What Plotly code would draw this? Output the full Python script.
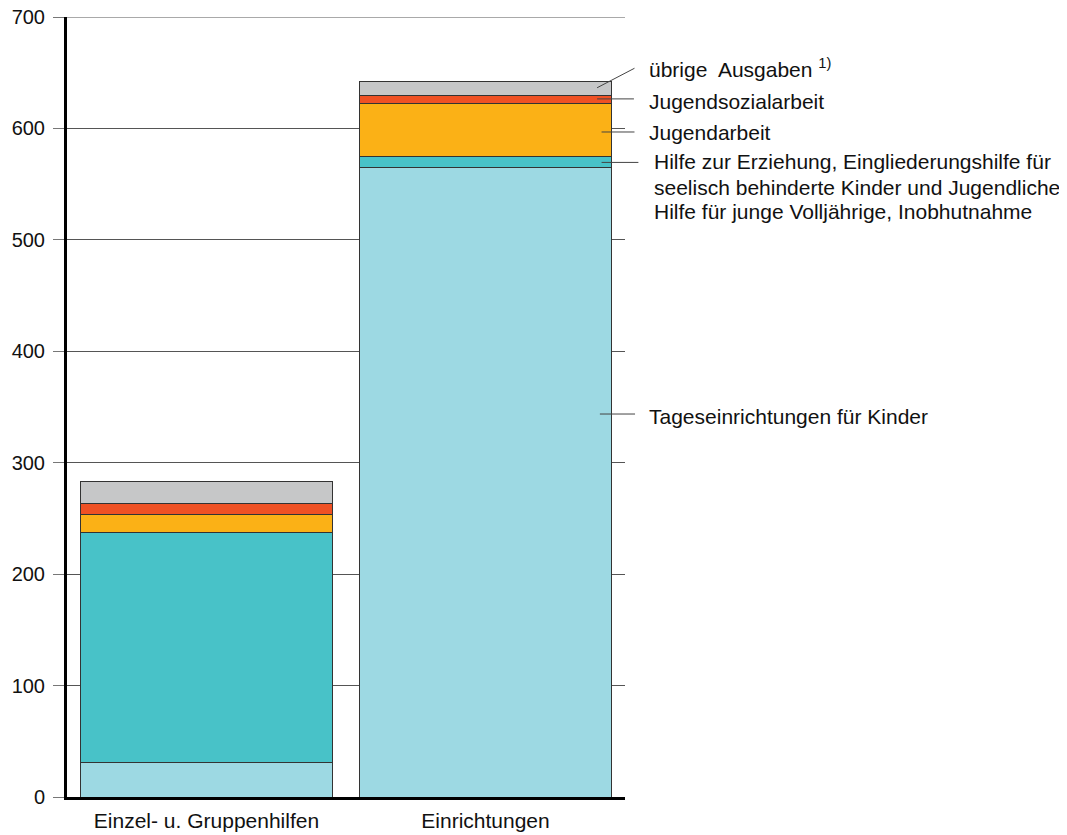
import plotly.graph_objects as go

categories = ["Einzel- u. Gruppenhilfen", "Einrichtungen"]
series_names = [
    "Tageseinrichtungen für Kinder",
    "Hilfe zur Erziehung, Eingliederungshilfe für",
    "Jugendarbeit",
    "Jugendsozialarbeit",
    "übrige  Ausgaben <sup>1)</sup>",
]
hilfe_extra_lines = [
    "seelisch behinderte Kinder und Jugendliche,",
    "Hilfe für junge Volljährige, Inobhutnahme",
]
tages = [31.4, 564.5]
hilfe = [206.4, 9.9]
jugendarbeit = [15.3, 48.4]
jugendsozial = [10.7, 7.2]
uebrige = [18.9, 11.7]
colors = ["#9DD9E3", "#48C2C8", "#FBB116", "#EF5124", "#C6C7C8"]
y_max = 700

series = [tages, hilfe, jugendarbeit, jugendsozial, uebrige]

FONT = "Liberation Sans, Arial, sans-serif"

fig = go.Figure()
for name, vals, col in zip(series_names, series, colors):
    fig.add_trace(go.Bar(
        x=categories, y=vals, name=name,
        marker=dict(color=col, line=dict(color="#333333", width=1)),
        showlegend=False,
    ))

# top gridline (Plotly omits the gridline at the range edge)
fig.add_shape(type="line", xref="paper", yref="y", x0=0, x1=1, y0=y_max, y1=y_max,
              line=dict(color="#555555", width=1), layer="below")

# leader lines (data y of line start / end) and label y positions
line_y0 = [343.7, 569.5, 596.8, 626.5, 636.5]
line_y1 = [343.7, 569.5, 596.8, 626.5, 654.0]
line_x0 = [0.955, 0.958, 0.958, 0.950, 0.950]
line_x1 = [1.018, 1.024, 1.017, 1.016, 1.017]
label_y = [341.9, 569.9, 596.0, 624.6, 654.5]
text_x = [1.039, 1.049, 1.039, 1.039, 1.039]

for i in range(5):
    fig.add_shape(type="line", xref="paper", yref="y",
                  x0=line_x0[i], x1=line_x1[i], y0=line_y0[i], y1=line_y1[i],
                  line=dict(color="#444444", width=1))
    fig.add_annotation(xref="paper", yref="y", x=text_x[i], y=label_y[i],
                       text=series_names[i], showarrow=False,
                       xanchor="left", yanchor="middle", align="left",
                       font=dict(family=FONT, size=21, color="#111111"))

for txt, yv in zip(hilfe_extra_lines, [547.4, 525.9]):
    fig.add_annotation(xref="paper", yref="y", x=text_x[1], y=yv,
                       text=txt, showarrow=False,
                       xanchor="left", yanchor="middle", align="left",
                       font=dict(family=FONT, size=21, color="#111111"))

fig.update_layout(
    barmode="stack", bargap=0.1,
    width=1059, height=827,
    margin=dict(l=59, r=442, t=9, b=38, autoexpand=False),
    plot_bgcolor="white", paper_bgcolor="white",
    font=dict(family=FONT, size=21, color="#111111"),
)
fig.update_yaxes(range=[0, y_max], dtick=100, showgrid=True, gridcolor="#555555",
                 gridwidth=1, showline=True, linecolor="black", linewidth=3,
                 ticks="outside", ticklen=11, tickcolor="#777777", zeroline=False,
                 tickfont=dict(size=20), automargin=False, ticklabelstandoff=4,
                 ticklabeloverflow="allow")
fig.update_xaxes(showline=True, linecolor="black", linewidth=3, ticks="",
                 tickfont=dict(size=21), automargin=False, ticklabelstandoff=3)

fig.write_html("out.html")
